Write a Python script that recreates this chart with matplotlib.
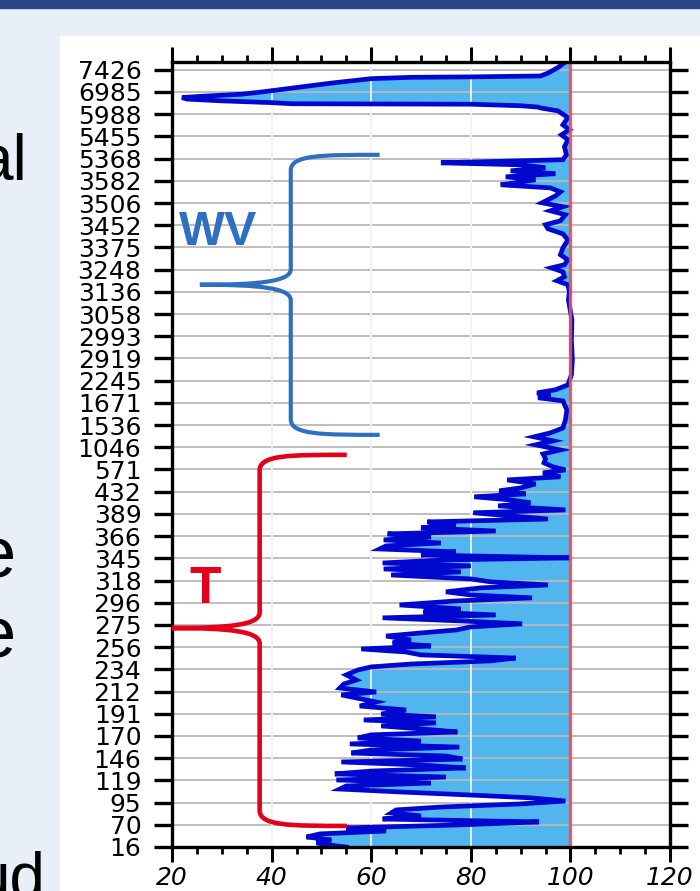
import matplotlib
matplotlib.use('Agg')
import matplotlib.pyplot as plt
from matplotlib.patches import Rectangle, PathPatch
from matplotlib.path import Path
from matplotlib.ticker import MultipleLocator

# Channel labels on the y axis, bottom to top (one tick per label)
channels = ['16', '70', '95', '119', '146', '170', '191', '212', '234', '256',
            '275', '296', '318', '345', '366', '389', '432', '571', '1046', '1536',
            '1671', '2245', '2919', '2993', '3058', '3136', '3248', '3375', '3452',
            '3506', '3582', '5368', '5455', '5988', '6985', '7426']

# Profile: position along the channel axis and value (%)
prof_pos = [35.35, 35.1, 34.85, 34.72, 34.68, 34.66, 34.6, 34.4, 34.2, 34.0,
            33.9, 33.82, 33.75, 33.68, 33.6, 33.52, 33.47, 33.45, 33.38, 33.32,
            33.28, 33.15, 33.0, 32.85, 32.52, 32.3, 32.07, 31.85, 31.53, 31.17,
            30.95, 30.81, 30.72, 30.59, 30.45, 30.32, 30.18, 30.05, 29.91, 29.82,
            29.68, 29.5, 29.32, 29.01, 28.83, 28.65, 28.47, 28.2, 28.02, 27.84,
            27.61, 27.34, 26.98, 26.67, 26.44, 26.22, 26.08, 25.9, 25.68, 25.5,
            25.32, 25.0, 24.64, 23.74, 22.84, 21.94, 21.26, 20.81, 20.59, 20.45,
            20.32, 20.23, 20.09, 19.68, 19.23, 18.87, 18.65, 18.47, 18.29, 18.11,
            17.88, 17.7, 17.48, 17.3, 17.12, 16.98, 16.85, 16.67, 16.53, 16.35,
            16.17, 16.04, 15.9, 15.77, 15.63, 15.5, 15.36, 15.18, 15.05, 14.91,
            14.77, 14.64, 14.5, 14.37, 14.23, 14.1, 13.96, 13.83, 13.69, 13.56,
            13.42, 13.29, 13.15, 13.02, 12.93, 12.79, 12.66, 12.52, 12.39, 12.25,
            12.07, 11.94, 11.8, 11.67, 11.49, 11.35, 11.22, 11.08, 10.9, 10.72,
            10.59, 10.45, 10.32, 10.18, 10.05, 9.91, 9.77, 9.64, 9.5, 9.32,
            9.19, 9.05, 8.92, 8.78, 8.65, 8.51, 8.38, 8.24, 8.11, 7.97,
            7.75, 7.52, 7.34, 7.16, 6.98, 6.85, 6.67, 6.53, 6.35, 6.17,
            5.99, 5.86, 5.72, 5.59, 5.45, 5.32, 5.18, 5.05, 4.91, 4.77,
            4.64, 4.5, 4.37, 4.23, 4.1, 3.96, 3.83, 3.69, 3.56, 3.42,
            3.29, 3.15, 3.02, 2.88, 2.75, 2.61, 2.48, 2.34, 2.21, 2.07,
            1.94, 1.8, 1.67, 1.53, 1.4, 1.26, 1.13, 0.99, 0.86, 0.72,
            0.59, 0.45, 0.32, 0.18, 0.05, 0.0]
prof_val = [99.0, 97.5, 95.5, 94.0, 80.0, 68.0, 60.0, 52.0, 45.0, 38.0,
            34.0, 27.0, 22.0, 23.0, 30.0, 40.0, 44.0, 80.0, 90.0, 93.5,
            94.0, 97.5, 98.5, 99.5, 98.5, 99.8, 98.2, 99.5, 98.8, 99.2,
            98.5, 74.0, 90.0, 95.0, 88.0, 97.0, 87.0, 93.0, 89.0, 86.0,
            96.0, 98.0, 97.0, 94.3, 98.5, 96.0, 99.0, 98.0, 95.0, 95.5,
            98.5, 99.5, 98.5, 98.0, 99.5, 98.8, 96.2, 98.5, 98.8, 97.3,
            99.5, 99.8, 99.6, 100.3, 100.2, 100.4, 100.2, 99.5, 97.0, 93.3,
            96.0, 93.5, 98.5, 99.3, 99.0, 98.5, 96.0, 92.7, 96.5, 93.0,
            98.0, 94.5, 95.0, 94.7, 96.5, 99.0, 94.5, 98.0, 87.3, 93.0,
            90.0, 85.7, 91.0, 80.7, 88.0, 92.0, 85.5, 99.0, 80.5, 88.0,
            95.5, 71.3, 77.0, 70.0, 85.0, 63.3, 72.0, 62.5, 74.0, 63.0,
            61.7, 77.0, 70.0, 100.0, 75.0, 62.3, 80.0, 62.5, 78.0, 64.0,
            80.0, 84.0, 95.5, 82.0, 75.0, 80.0, 92.3, 77.0, 65.7, 78.0,
            70.5, 85.0, 62.3, 78.0, 90.3, 80.0, 77.0, 70.0, 63.0, 68.0,
            64.3, 72.0, 58.0, 67.0, 70.0, 89.0, 84.0, 68.0, 60.0, 57.3,
            55.0, 57.0, 54.5, 53.7, 61.0, 54.0, 58.0, 61.0, 57.7, 67.0,
            62.0, 73.0, 58.5, 73.0, 62.0, 70.0, 77.3, 60.0, 57.3, 70.0,
            55.7, 77.7, 60.0, 56.0, 75.0, 78.3, 54.0, 70.0, 79.0, 60.0,
            52.7, 75.0, 53.0, 72.0, 55.0, 53.7, 65.7, 80.0, 92.3, 99.0,
            90.0, 74.0, 65.0, 64.0, 70.0, 62.3, 93.7, 77.0, 55.0, 63.0,
            49.7, 47.0, 52.0, 49.0, 53.0, 55.0]

x_ticks = [20, 40, 60, 80, 100, 120]
ref_value = 100

fig = plt.figure(figsize=(7, 8.91), dpi=100)
fig.patch.set_facecolor('#e9eff8')
W, H = 700.0, 891.0

# slide background pieces, kept behind the axes
fig.patches.append(Rectangle((0, 1 - 8 / H), 1, 8 / H, transform=fig.transFigure,
                             color='#2b4687', zorder=-10))
fig.patches.append(Rectangle((60 / W, 0), 1, (H - 36) / H, transform=fig.transFigure,
                             color='white', zorder=-10))

# fragments of the slide text cut by the crop
fig.text(27 / W, 1 - 180 / H, 'al', ha='right', va='baseline', fontsize=46,
         family='Liberation Sans', color='black')
fig.text(16 / W, 1 - 577 / H, 'e', ha='right', va='baseline', fontsize=52,
         family='Liberation Sans', color='black')
fig.text(16 / W, 1 - 657 / H, 'e', ha='right', va='baseline', fontsize=52,
         family='Liberation Sans', color='black')
fig.text(46 / W, 1 - 897 / H, 'ud', ha='right', va='baseline', fontsize=46,
         family='Liberation Sans', color='black')

ax = fig.add_axes([172 / W, (H - 847) / H, 498 / W, 785 / H])
ax.set_facecolor('white')

ax.fill_betweenx(prof_pos, prof_val, ref_value, color='#52b6ee', lw=0, zorder=1)
ax.hlines(range(len(channels)), 20, 120, color='#b9b9b9', lw=1.3, zorder=1.5)
ax.vlines([40, 60, 80], 0, 35.35, color='#f2f2f2', lw=1.3, zorder=1.6)
ax.plot(prof_val, prof_pos, color='#0008d0', lw=3.4, zorder=3, solid_joinstyle='miter')
ax.axvline(ref_value, color='#e8505a', lw=2.4, alpha=0.9, zorder=4)

ax.set_xlim(20, 120)
ax.set_ylim(0, 35.35)
ax.set_xticks(x_ticks)
ax.set_xticklabels([str(v) for v in x_ticks], fontstyle='italic', fontsize=18)
ax.xaxis.set_minor_locator(MultipleLocator(5))
ax.set_yticks(range(len(channels)))
ax.set_yticklabels(channels, fontsize=18, family='DejaVu Sans')

ax.tick_params(axis='x', which='major', direction='out', top=True, bottom=True,
               length=11, width=2.2, pad=3)
ax.tick_params(axis='x', which='minor', direction='out', top=True, bottom=True,
               length=5, width=2)
ax.tick_params(axis='y', which='major', direction='out', left=True, right=True,
               length=13, width=2.4, pad=9)
for s in ax.spines.values():
    s.set_linewidth(2.4)
    s.set_zorder(5)


def brace(x_end, x_spine, x_tip, y_top, y_tip, y_bot, ry, color, lw):
    dx = x_end - x_spine
    dt = x_spine - x_tip
    verts = [(x_end, y_top),
             (x_spine + 0.35 * dx, y_top), (x_spine, y_top), (x_spine, y_top - ry),
             (x_spine, y_tip + ry),
             (x_spine, y_tip + 0.2 * ry), (x_spine - 0.35 * dt, y_tip), (x_tip, y_tip),
             (x_spine - 0.35 * dt, y_tip), (x_spine, y_tip - 0.2 * ry), (x_spine, y_tip - ry),
             (x_spine, y_bot + ry),
             (x_spine, y_bot), (x_spine + 0.35 * dx, y_bot), (x_end, y_bot)]
    codes = [Path.MOVETO, Path.CURVE4, Path.CURVE4, Path.CURVE4, Path.LINETO,
             Path.CURVE4, Path.CURVE4, Path.CURVE4, Path.CURVE4, Path.CURVE4, Path.CURVE4,
             Path.LINETO, Path.CURVE4, Path.CURVE4, Path.CURVE4]
    ax.add_patch(PathPatch(Path(verts, codes), fill=False, edgecolor=color, lw=lw,
                           clip_on=False, zorder=6, capstyle='butt'))


brace(61.7, 43.85, 25.6, 31.17, 25.32, 18.56, 0.7, '#2f6fc1', 3.0)
brace(55.1, 37.6, 20.0, 17.66, 9.86, 0.95, 0.7, '#e3001b', 3.3)

ax.text(29.3, 27.65, 'WV', color='#2f6fc1', fontsize=35, fontweight='bold',
        family='Liberation Sans', ha='center', va='center', zorder=6)
ax.text(26.6, 11.6, 'T', color='#e3001b', fontsize=37, fontweight='bold',
        family='Liberation Sans', ha='center', va='center', zorder=6)

fig.savefig('out.png', dpi=100, facecolor=fig.get_facecolor())
